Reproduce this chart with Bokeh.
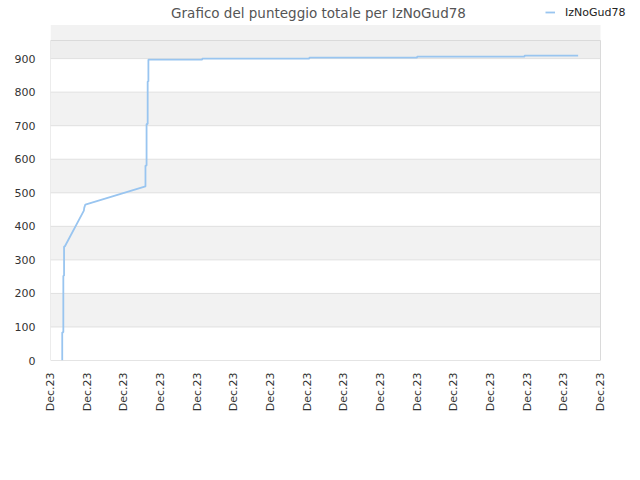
from bokeh.plotting import figure
from bokeh.models import (Range1d, FixedTicker, BoxAnnotation, Legend, LegendItem,
                          Label)
from bokeh.embed import file_html
from bokeh.resources import INLINE

# Data (x in tick-interval units, all ticks labelled "Dec.23")
xs = [0.32, 0.32, 0.35, 0.35, 0.37, 0.37, 0.39, 0.91, 0.92, 0.95, 2.59, 2.59,
      2.62, 2.62, 2.65, 2.65, 2.67, 2.67, 4.14, 4.14, 7.06, 7.06, 10.0, 10.0,
      12.93, 12.93, 14.39]
ys = [0, 84, 84, 253, 253, 340, 340, 447, 455, 465, 519, 581,
      581, 705, 705, 832, 832, 897, 897, 900, 900, 903, 903, 906,
      906, 909, 909]
x_ticks = list(range(16))
x_labels = {i: "Dec.23" for i in x_ticks}
y_ticks = [0, 100, 200, 300, 400, 500, 600, 700, 800, 900]
series_name = "IzNoGud78"
title_text = "Grafico del punteggio totale per IzNoGud78"

FONT = "DejaVu Sans"
X_MAX = 15
Y_MAX = 954

# frame extends to top/right edges so that title and legend live inside it
p = figure(width=640, height=480, output_backend="svg", toolbar_location=None,
           x_range=Range1d(0, X_MAX + 40 / 36.667),
           y_range=Range1d(0, Y_MAX * 360 / 320),
           min_border_left=50, min_border_right=0, min_border_top=0,
           min_border_bottom=120)
p.background_fill_color = "white"
p.border_fill_color = "white"
p.outline_line_color = None

# alternating bands
for i, lo in enumerate(y_ticks):
    if i % 2 == 1:
        p.add_layout(BoxAnnotation(left=0, right=X_MAX, bottom=lo, top=lo + 100,
                                   fill_color="#f2f2f2", fill_alpha=1,
                                   line_alpha=0, level="underlay"))
p.add_layout(BoxAnnotation(left=0, right=X_MAX, bottom=900, top=Y_MAX,
                           fill_color="#eeeeee", fill_alpha=1,
                           line_alpha=0, level="underlay"))
# grid lines
p.segment(x0=[0] * len(y_ticks), x1=[X_MAX] * len(y_ticks), y0=y_ticks,
          y1=y_ticks, line_color="#e0e0e0", line_width=1)
# frame outline
p.add_layout(BoxAnnotation(left=0, right=X_MAX, bottom=0, top=Y_MAX,
                           fill_alpha=0, line_color="#dadada", line_alpha=1,
                           line_width=1, level="glyph"))

r = p.line(xs, ys, line_color="#99c5f0", line_width=1.8)

p.xaxis.ticker = FixedTicker(ticks=x_ticks)
p.xaxis.major_label_overrides = x_labels
p.xaxis.major_label_orientation = 1.5708
p.yaxis.ticker = FixedTicker(ticks=y_ticks)
for ax in (p.xaxis, p.yaxis):
    ax.axis_line_color = None
    ax.major_tick_line_color = None
    ax.minor_tick_line_color = None
    ax.major_label_text_font = FONT
    ax.major_label_text_font_size = "11px"
    ax.major_label_text_color = "#333333"
p.yaxis.major_label_standoff = 9
p.xaxis.major_label_standoff = 6
p.xgrid.grid_line_color = None
p.ygrid.grid_line_color = None

title = Label(x=(318 - 50) / 36.667, y=Y_MAX * (360 - 12) / 320, text=title_text,
              text_align="center", text_baseline="middle", text_font=FONT,
              text_font_size="13.5px", text_color="#555555")
p.add_layout(title)

legend = Legend(items=[LegendItem(label=series_name, renderers=[r])],
                location=(495, 340), glyph_width=10, glyph_height=14,
                label_height=16,
                label_standoff=10, padding=0, margin=0, border_line_alpha=0,
                background_fill_alpha=0, label_text_font=FONT,
                label_text_font_size="11px", label_text_color="#222222")
p.add_layout(legend)

open("out.html", "w").write(file_html(p, INLINE))
